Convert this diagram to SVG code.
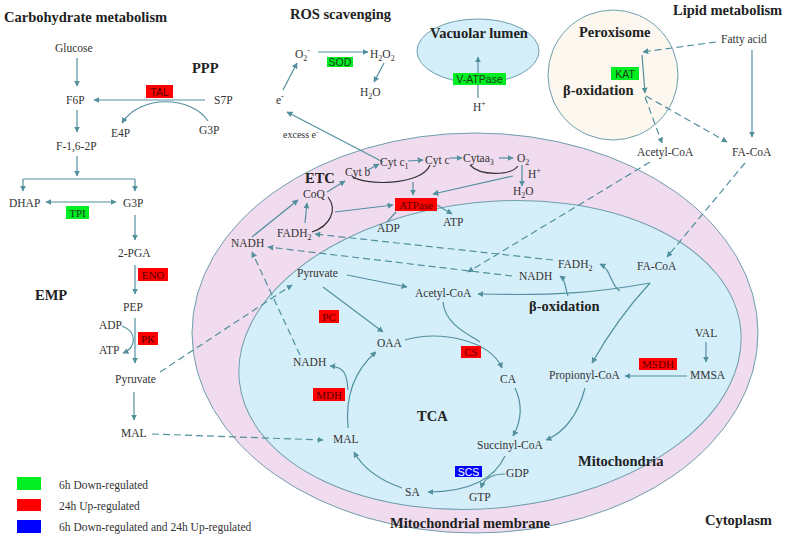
<svg xmlns="http://www.w3.org/2000/svg" width="787" height="550" viewBox="0 0 787 550">
<style>
.t{font-family:"Liberation Serif","Times New Roman","DejaVu Serif",serif;font-size:11.5px;fill:#333}
.s{font-family:"Liberation Serif","Times New Roman","DejaVu Serif",serif;font-size:10px;fill:#333}
.h{font-family:"Liberation Serif","Times New Roman","DejaVu Serif",serif;font-size:14.5px;font-weight:bold;fill:#222}
.e{font-family:"Liberation Serif","Times New Roman","DejaVu Serif",serif;font-size:11px;text-anchor:middle}
.es{font-family:"Liberation Sans",Arial,sans-serif;font-size:10.5px;text-anchor:middle}
.c{fill:none;stroke:#52909e;stroke-width:1.2;marker-end:url(#a)}
.n{fill:none;stroke:#52909e;stroke-width:1.2}
.d{fill:none;stroke:#52909e;stroke-width:1.2;stroke-dasharray:7 4;marker-end:url(#a)}
.k{fill:none;stroke:#333;stroke-width:1.2}
.r{fill:#ff0000}
.g{fill:#00ee22}
.b{fill:#0000ff}
</style>
<defs>
<marker id="a" viewBox="0 0 10 10" refX="9" refY="5" markerWidth="6" markerHeight="6" markerUnits="userSpaceOnUse" orient="auto">
<path d="M0,0 L10,5 L0,10 z" fill="#52909e"/>
</marker>
<marker id="as" viewBox="0 0 10 10" refX="1" refY="5" markerWidth="6" markerHeight="6" markerUnits="userSpaceOnUse" orient="auto">
<path d="M10,0 L0,5 L10,10 z" fill="#52909e"/>
</marker>
</defs>
<rect width="787" height="550" fill="#fff"/>

<g id="compartments">
<ellipse id="mito-membrane" cx="475" cy="333" rx="283" ry="200" fill="#f1dbee" stroke="#6f9ead" stroke-width="1"/>
<ellipse id="mitochondria" cx="490" cy="355" rx="252" ry="153" transform="rotate(-6 490 355)" fill="#d5effa" stroke="#6f9ead" stroke-width="1"/>
<ellipse id="vacuole" cx="478" cy="51" rx="61" ry="32" fill="#d5effa" stroke="#6f9ead" stroke-width="1"/>
<circle id="peroxisome" cx="613" cy="75" r="65" fill="#fcf7ef" stroke="#6f9ead" stroke-width="1"/>
</g>

<g id="connectors">
<path class="c" d="M77,58 V86"/>
<path class="c" d="M205,100 H94"/>
<path class="c" d="M208,121 C192,96 140,94 122,123"/>
<path class="c" d="M77,110 V132"/>
<path class="c" d="M77,156 V176"/>
<path class="n" d="M23,179 H135"/>
<path class="c" d="M23,179 V191"/>
<path class="c" d="M135,179 V191"/>
<path class="c" d="M46,202 H116" marker-start="url(#as)"/>
<path class="c" d="M135,215 V240"/>
<path class="c" d="M135,265 V294"/>
<path class="c" d="M135,318 V363"/>
<path class="c" d="M122,326 C138,332 136,348 123,353"/>
<path class="c" d="M134,392 V420"/>
<path class="d" d="M160,372 L292,285"/>
<path class="d" d="M152,434 L323,440"/>

<path class="c" d="M318,52 H368"/>
<path class="c" d="M384,63 L374,82"/>
<path class="c" d="M283,90 L297,63"/>
<path class="c" d="M383,162 L287,112"/>

<path class="c" d="M478,98 V57"/>

<path class="d" d="M716,42 L643,52"/>
<path class="c" d="M642,55 L645,93"/>
<path class="d" d="M645,97 L662,143"/>
<path class="d" d="M646,96 L727,142"/>
<path class="c" d="M752,50 V137"/>
<path class="d" d="M650,162 L468,272"/>
<path class="d" d="M745,163 L667,257"/>

<path class="c" d="M327,192 L345,181"/>
<path class="c" d="M368,170 L379,164"/>
<path class="c" d="M408,161 L423,160"/>
<path class="c" d="M450,158 L462,158"/>
<path class="c" d="M499,158 L513,158"/>
<path class="c" d="M522,165 V186"/>
<path class="k" d="M430,165 C422,186 362,186 352,176"/>
<path class="k" d="M470,165 C480,176 510,176 518,166"/>
<path class="c" d="M413,182 V195"/>
<path class="c" d="M513,176 L433,194"/>
<path class="c" d="M335,212 L393,205"/>
<path class="k" d="M328,197 C338,210 330,226 312,232"/>
<path class="n" d="M387,222 L396,212"/>
<path class="c" d="M437,205 L452,214"/>
<path class="c" d="M305,223 L307,203"/>
<path class="c" d="M252,237 L298,200"/>
<path class="d" d="M553,260 L315,234"/>
<path class="d" d="M512,276 L268,247"/>
<path class="d" d="M300,355 L252,252"/>

<path class="c" d="M347,275 L407,287"/>
<path class="c" d="M323,287 L383,332"/>
<path class="c" d="M650,283 C600,292 560,296 478,294"/>
<path class="c" d="M620,291 C610,285 612,270 600,264"/>
<path class="c" d="M568,296 C565,288 566,280 560,276"/>
<path class="c" d="M650,283 C625,310 605,340 592,363"/>
<path class="n" d="M443,302 C445,325 470,335 480,342"/>
<path class="c" d="M405,340 C440,330 490,340 502,368"/>
<path class="c" d="M515,388 C523,405 522,420 513,436"/>
<path class="c" d="M585,388 C578,415 565,432 546,440"/>
<path class="c" d="M706,342 V362"/>
<path class="c" d="M687,376 H625"/>
<path class="c" d="M505,456 C495,478 470,492 428,492"/>
<path class="c" d="M505,474 C492,474 484,478 481,488"/>
<path class="c" d="M402,488 C385,482 365,472 354,452"/>
<path class="c" d="M348,428 C345,395 355,370 376,352"/>
<path class="c" d="M348,390 C347,375 345,367 330,366"/>
</g>

<g id="headings">
<text class="h" x="4" y="22">Carbohydrate metabolism</text>
<text class="h" x="192" y="73">PPP</text>
<text class="h" x="35" y="300">EMP</text>
<text class="h" x="290" y="19">ROS scavenging</text>
<text class="h" x="430" y="38" font-size="15">Vacuolar lumen</text>
<text class="h" x="579" y="37">Peroxisome</text>
<text class="h" x="673" y="15">Lipid metabolism</text>
<text class="h" x="563" y="95" font-size="15">β-oxidation</text>
<text class="h" x="305" y="183" font-size="15.5">ETC</text>
<text class="h" x="529" y="311" font-size="15">β-oxidation</text>
<text class="h" x="417" y="421" font-size="17">TCA</text>
<text class="h" x="578" y="466">Mitochondria</text>
<text class="h" x="390" y="528">Mitochondrial membrane</text>
<text class="h" x="705" y="525">Cytoplasm</text>
</g>

<g id="n-glucose"><text class="t" x="55" y="52">Glucose</text></g>
<g id="n-f6p"><text class="t" x="66" y="104">F6P</text></g>
<g id="n-s7p"><text class="t" x="214" y="104">S7P</text></g>
<g id="n-e4p"><text class="t" x="111" y="137">E4P</text></g>
<g id="n-g3p-ppp"><text class="t" x="199" y="134">G3P</text></g>
<g id="n-f16"><text class="t" x="56" y="150">F-1,6-2P</text></g>
<g id="n-dhap"><text class="t" x="9" y="207">DHAP</text></g>
<g id="n-g3p"><text class="t" x="123" y="207">G3P</text></g>
<g id="n-2pga"><text class="t" x="118" y="257">2-PGA</text></g>
<g id="n-pep"><text class="t" x="123" y="311">PEP</text></g>
<g id="n-adp1"><text class="t" x="99" y="329">ADP</text></g>
<g id="n-atp1"><text class="t" x="99" y="354">ATP</text></g>
<g id="n-pyr1"><text class="t" x="115" y="383">Pyruvate</text></g>
<g id="n-mal1"><text class="t" x="121" y="437">MAL</text></g>

<g id="n-o2m"><text class="t" x="295" y="58">O<tspan font-size="8" dy="3">2</tspan><tspan font-size="8" dy="-8">-</tspan></text></g>
<g id="n-h2o2"><text class="t" x="370" y="58">H<tspan font-size="8" dy="3">2</tspan><tspan dy="-3">O</tspan><tspan font-size="8" dy="3">2</tspan></text></g>
<g id="n-h2o-ros"><text class="t" x="360" y="96">H<tspan font-size="8" dy="3">2</tspan><tspan dy="-3">O</tspan></text></g>
<g id="n-e"><text class="t" x="276" y="104">e<tspan font-size="8" dy="-5">-</tspan></text></g>
<g id="n-excess"><text class="s" x="283" y="138">excess e<tspan font-size="7" dy="-4">-</tspan></text></g>
<g id="n-hplus-vac"><text class="t" x="473" y="111">H<tspan font-size="8" dy="-5">+</tspan></text></g>

<g id="n-fatty"><text class="t" x="721" y="43">Fatty acid</text></g>
<g id="n-acetyl-per"><text class="t" x="637" y="156">Acetyl-CoA</text></g>
<g id="n-facoa-cyt"><text class="t" x="732" y="156">FA-CoA</text></g>

<g id="n-coq"><text class="t" x="303" y="198">CoQ</text></g>
<g id="n-cytb"><text class="t" x="345" y="176">Cyt b</text></g>
<g id="n-cytc1"><text class="t" x="380" y="166">Cyt c<tspan font-size="8" dy="3">1</tspan></text></g>
<g id="n-cytc"><text class="t" x="425" y="164">Cyt c</text></g>
<g id="n-cytaa3"><text class="t" x="463" y="162">Cytaa<tspan font-size="8" dy="3">3</tspan></text></g>
<g id="n-o2"><text class="t" x="517" y="162">O<tspan font-size="8" dy="3">2</tspan></text></g>
<g id="n-hplus"><text class="t" x="528" y="178">H<tspan font-size="8" dy="-5">+</tspan></text></g>
<g id="n-h2o"><text class="t" x="513" y="195">H<tspan font-size="8" dy="3">2</tspan><tspan dy="-3">O</tspan></text></g>
<g id="n-adp2"><text class="t" x="377" y="232">ADP</text></g>
<g id="n-atp2"><text class="t" x="443" y="226">ATP</text></g>
<g id="n-fadh2-out"><text class="t" x="277" y="237">FADH<tspan font-size="8" dy="3">2</tspan></text></g>
<g id="n-nadh-out"><text class="t" x="231" y="247">NADH</text></g>

<g id="n-pyr2"><text class="t" x="297" y="277">Pyruvate</text></g>
<g id="n-acetyl"><text class="t" x="415" y="297">Acetyl-CoA</text></g>
<g id="n-fadh2-in"><text class="t" x="558" y="268">FADH<tspan font-size="8" dy="3">2</tspan></text></g>
<g id="n-nadh-box"><text class="t" x="519" y="280">NADH</text></g>
<g id="n-facoa"><text class="t" x="637" y="270">FA-CoA</text></g>
<g id="n-oaa"><text class="t" x="377" y="347">OAA</text></g>
<g id="n-ca"><text class="t" x="500" y="383">CA</text></g>
<g id="n-nadh-in"><text class="t" x="293" y="366">NADH</text></g>
<g id="n-mal2"><text class="t" x="333" y="443">MAL</text></g>
<g id="n-succ"><text class="t" x="477" y="449">Succinyl-CoA</text></g>
<g id="n-prop"><text class="t" x="549" y="379">Propionyl-CoA</text></g>
<g id="n-val"><text class="t" x="695" y="337">VAL</text></g>
<g id="n-mmsa"><text class="t" x="690" y="379">MMSA</text></g>
<g id="n-sa"><text class="t" x="405" y="496">SA</text></g>
<g id="n-gdp"><text class="t" x="506" y="477">GDP</text></g>
<g id="n-gtp"><text class="t" x="469" y="501">GTP</text></g>

<g id="enzymes">
<g id="e-tal"><rect class="r" x="146" y="85" width="27" height="13"/><text class="es" x="159.5" y="95.5" fill="#5a0000">TAL</text></g>
<g id="e-tpi"><rect class="g" x="66" y="206" width="23" height="13"/><text class="e" x="77.5" y="216.5" fill="#1a3a1a">TPI</text></g>
<g id="e-eno"><rect class="r" x="138" y="268" width="30" height="13"/><text class="e" x="153" y="278.5" fill="#5a0000">ENO</text></g>
<g id="e-pk"><rect class="r" x="138" y="332" width="20" height="13"/><text class="e" x="148" y="342.5" fill="#5a0000">PK</text></g>
<g id="e-sod"><rect class="g" x="327" y="57" width="26" height="10"/><text class="es" x="340" y="66" fill="#1a3a1a" font-size="10">SOD</text></g>
<g id="e-vatpase"><rect class="g" x="453" y="73" width="53" height="12"/><text class="es" x="479.5" y="83" fill="#1a3a1a">V-ATPase</text></g>
<g id="e-kat"><rect class="g" x="611" y="67" width="28" height="13"/><text class="es" x="625" y="77.5" fill="#1a3a1a">KAT</text></g>
<g id="e-atpase"><rect class="r" x="395" y="198" width="42" height="13"/><text class="e" x="416" y="208.5" fill="#5a0000" font-size="11.5">ATPase</text></g>
<g id="e-pc"><rect class="r" x="319" y="310" width="20" height="13"/><text class="e" x="329" y="320.5" fill="#5a0000">PC</text></g>
<g id="e-cs"><rect class="r" x="461" y="346" width="20" height="12"/><text class="e" x="471" y="356" fill="#5a0000">CS</text></g>
<g id="e-mdh"><rect class="r" x="313" y="388" width="32" height="13"/><text class="e" x="329" y="398.5" fill="#5a0000">MDH</text></g>
<g id="e-msdh"><rect class="r" x="639" y="358" width="38" height="12"/><text class="e" x="658" y="368" fill="#5a0000">MSDH</text></g>
<g id="e-scs"><rect class="b" x="455" y="466" width="27" height="11"/><text class="es" x="468.5" y="475.5" fill="#fff">SCS</text></g>
</g>

<g id="legend">
<rect class="g" x="17" y="477" width="24" height="13"/>
<rect class="r" x="17" y="499" width="24" height="12"/>
<rect class="b" x="17" y="520" width="24" height="13"/>
<text class="t" x="59" y="489">6h Down-regulated</text>
<text class="t" x="59" y="510">24h Up-regulated</text>
<text class="t" x="59" y="531">6h Down-regulated and 24h Up-regulated</text>
</g>
</svg>
